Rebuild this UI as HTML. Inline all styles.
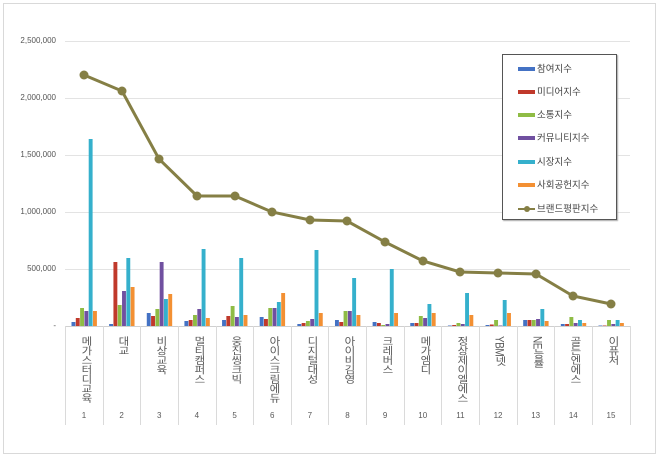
<!DOCTYPE html>
<html><head><meta charset="utf-8"><style>
body{margin:0;background:#fff;}
#c{position:relative;width:660px;height:458px;overflow:hidden;font-family:"Liberation Sans","Noto Sans CJK KR",sans-serif;}
.yl{position:absolute;right:604px;font-size:8px;color:#555;text-align:right;}
.xl{position:absolute;top:336px;writing-mode:vertical-rl;font-size:10px;color:#595959;line-height:12px;letter-spacing:-0.5px;transform:scaleX(1.15);}
.xn{position:absolute;top:411px;width:38px;text-align:center;font-size:8px;color:#595959;}
.lg{position:absolute;left:502px;top:54px;width:113px;height:164px;border:1px solid #555;background:#fff;box-shadow:1px 1px 1px #aaa;}
.li{position:absolute;left:15px;font-size:9.5px;color:#444;}
.sw{display:inline-block;width:17px;height:4px;vertical-align:middle;margin-right:2px;}
</style></head><body><div id="c">
<svg width="660" height="458" style="position:absolute;left:0;top:0">
<rect x="3.5" y="3.5" width="652" height="450" fill="none" stroke="#d9d9d9"/>
<g stroke="#e3e3e3" stroke-width="1">
<line x1="65" y1="41.5" x2="630" y2="41.5"/><line x1="65" y1="98.5" x2="630" y2="98.5"/>
<line x1="65" y1="155.5" x2="630" y2="155.5"/><line x1="65" y1="212.5" x2="630" y2="212.5"/>
<line x1="65" y1="269.5" x2="630" y2="269.5"/>
</g>
<line x1="65" y1="326.5" x2="630" y2="326.5" stroke="#d0d0d0"/>
<g id="div" stroke="#dadada"></g>
<g id="bars"></g>
<polyline fill="none" stroke="#857f45" stroke-width="3" points="84,75 122,91 159,159 197,196 235,196 272,212 310,220 347,221 385,242 423,261 460,272 498,273 536,274 573,296 611,304"/>
<g fill="#857f45" id="mk"></g>
</svg>
<div class="yl" style="top:36px">2,500,000</div>
<div class="yl" style="top:93px">2,000,000</div>
<div class="yl" style="top:150px">1,500,000</div>
<div class="yl" style="top:207px">1,000,000</div>
<div class="yl" style="top:264px">500,000</div>
<div class="yl" style="top:321px">-</div>
<div id="xls"></div>
<div class="lg">
<div class="li" style="top:6px"><span class="sw" style="background:#4472c4"></span>참여지수</div>
<div class="li" style="top:29px"><span class="sw" style="background:#c0392b"></span>미디어지수</div>
<div class="li" style="top:52px"><span class="sw" style="background:#8fbc45"></span>소통지수</div>
<div class="li" style="top:75px"><span class="sw" style="background:#7050a0"></span>커뮤니티지수</div>
<div class="li" style="top:99px"><span class="sw" style="background:#35b0cc"></span>시장지수</div>
<div class="li" style="top:122px"><span class="sw" style="background:#f39033"></span>사회공헌지수</div>
<div class="li" style="top:146px"><span style="display:inline-block;width:17px;height:2px;background:#857f45;vertical-align:middle;margin-right:2px;position:relative"><span style="position:absolute;left:6px;top:-2px;width:6px;height:6px;border-radius:50%;background:#857f45"></span></span>브랜드평판지수</div>
</div>
</div>
<script>
const names=["메가스터디교육","대교","비상교육","멀티캠퍼스","웅진씽크빅","아이스크림에듀","디지털대성","아이비김영","크레버스","메가엠디","정상제이엘에스","YBM넷","NE능률","골든엔에스","이퓨처"];
const h=[[4,8,18,15,187,15],[2,64,21,35,68,39],[13,10,17,64,27,32],[5,6,11,17,77,8],[6,10,20,9,68,11],[9,7,18,18,24,33],[2,3,5,7,76,13],[6,4,15,15,48,11],[4,3,1,2,57,13],[3,3,10,8,22,13],[0.5,1,3,2,33,11],[1,1.5,6,0.5,26,13],[6,6,6,7,17,5],[2,2,9,3,6,3],[0.5,0.5,6,2,6,3]];
const col=["#4472c4","#c0392b","#8fbc45","#7050a0","#35b0cc","#f39033"];
const ns="http://www.w3.org/2000/svg";
const bars=document.getElementById("bars"),dv=document.getElementById("div"),mk=document.getElementById("mk"),xls=document.getElementById("xls");
const pts=[[84,75],[122,91],[159,159],[197,196],[235,196],[272,212],[310,220],[347,221],[385,242],[423,261],[460,272],[498,273],[536,274],[573,296],[611,304]];
const step=37.64;
for(let i=0;i<15;i++){
 const x0=65+i*step;
 for(let j=0;j<6;j++){
  const r=document.createElementNS(ns,"rect");
  r.setAttribute("x",x0+6.5+j*4.3);r.setAttribute("width",3.9);
  r.setAttribute("y",326-h[i][j]);r.setAttribute("height",h[i][j]);r.setAttribute("fill",col[j]);bars.appendChild(r);
 }
 const l=document.createElementNS(ns,"line");
 l.setAttribute("x1",Math.round(x0)+.5);l.setAttribute("x2",Math.round(x0)+.5);l.setAttribute("y1",326);l.setAttribute("y2",425);dv.appendChild(l);
 const c=document.createElementNS(ns,"circle");c.setAttribute("cx",pts[i][0]);c.setAttribute("cy",pts[i][1]);c.setAttribute("r",4.5);mk.appendChild(c);
 const d=document.createElement("div");d.className="xl";d.textContent=names[i];d.style.left=(x0+step/2-6)+"px";xls.appendChild(d);
 const n=document.createElement("div");n.className="xn";n.textContent=i+1;n.style.left=(x0)+"px";xls.appendChild(n);
}
const l=document.createElementNS(ns,"line");l.setAttribute("x1",630.5);l.setAttribute("x2",630.5);l.setAttribute("y1",326);l.setAttribute("y2",425);dv.appendChild(l);
</script>
</body></html>
